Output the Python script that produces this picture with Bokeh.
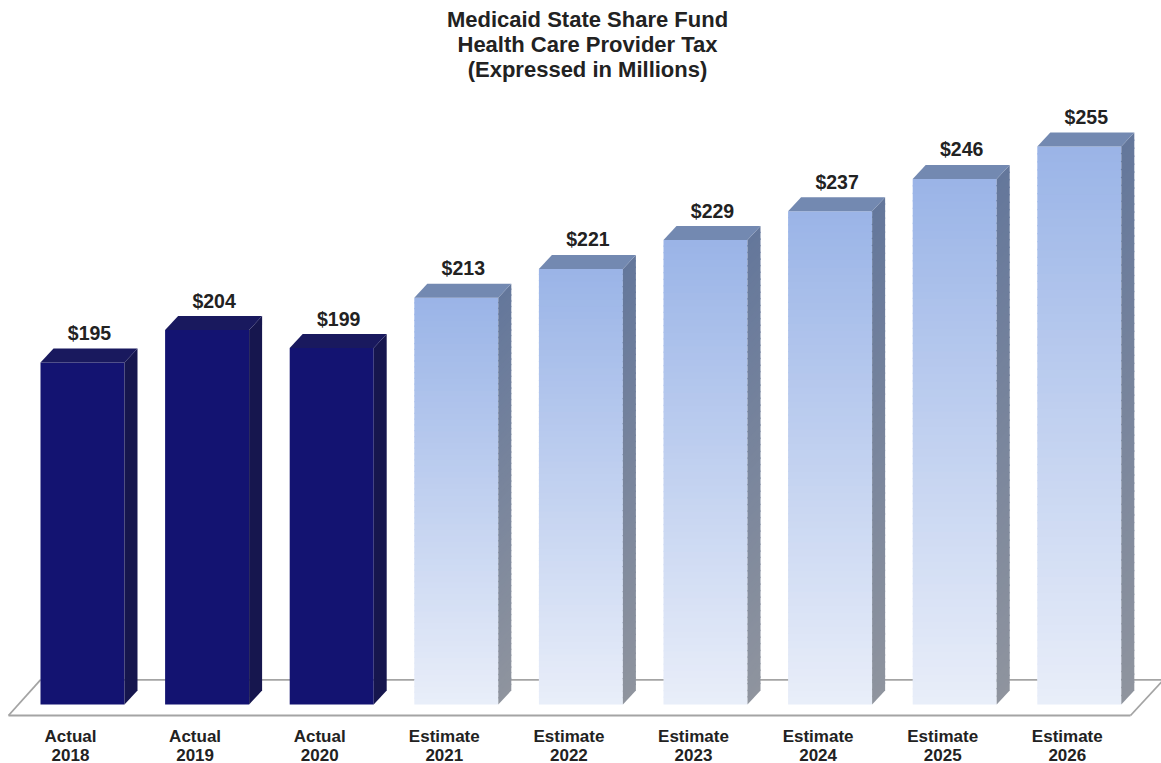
import numpy as np
from bokeh.plotting import figure
from bokeh.models import Range1d
from bokeh.core.properties import value
from bokeh.embed import file_html
from bokeh.resources import INLINE

# ---------------- data ----------------
status = ["Actual", "Actual", "Actual", "Estimate", "Estimate", "Estimate",
          "Estimate", "Estimate", "Estimate"]
years = ["2018", "2019", "2020", "2021", "2022", "2023", "2024", "2025", "2026"]
amounts = [195, 204, 199, 213, 221, 229, 237, 246, 255]
title_lines = ["Medicaid State Share Fund", "Health Care Provider Tax",
               "(Expressed in Millions)"]
base = 100  # value axis starts here

# ---------------- layout constants (pixels) ----------------
W, H = 1161, 763
PXX = 124.6   # px per category step
PXY = 3.6     # px per $M
X0PX = 82     # canvas x of first bar centre
Y0PX = 704    # canvas y of value axis base
TSHIFT = 7.5  # text baseline correction (px)


def sx(px):
    return (px - X0PX) / PXX


def sy(py):
    return base + (Y0PX - py) / PXY


def ty(py):
    return sy(py - TSHIFT)


hw = 42 / PXX      # half front width
ddx = 13 / PXX     # depth offset x
ddy = 14 / PXY     # depth offset y

FONT = value("Liberation Sans")
TXT = "#222222"

p = figure(width=W, height=H, x_range=Range1d(sx(0), sx(W)),
           y_range=Range1d(sy(H), sy(0)), output_backend="svg",
           toolbar_location=None, min_border=0,
           x_axis_location=None, y_axis_location=None)
p.grid.visible = False
p.outline_line_color = None
p.background_fill_color = "white"
p.border_fill_color = "white"

# ---------------- floor ----------------
fy_front = sy(715)
fy_back = sy(679.3)
fl_x0 = sx(8)
fl_x0b = sx(40)
fl_x1 = sx(1130)
fl_x1b = sx(1163)
floor_col = "#a4a4a4"
p.multi_line(xs=[[fl_x0, fl_x1], [fl_x0, fl_x0b], [fl_x0b, fl_x1b + 0.1],
                 [fl_x1, fl_x1b]],
             ys=[[fy_front, fy_front], [fy_front, fy_back], [fy_back, fy_back],
                 [fy_front, fy_back]],
             line_color=floor_col, line_width=1.8)


def hex2rgb(h):
    h = h.lstrip("#")
    return np.array([int(h[i:i + 2], 16) for i in (0, 2, 4)], dtype=float)


def mix(c_bottom, c_top, t):
    a, b = hex2rgb(c_bottom), hex2rgb(c_top)
    c = a + (b - a) * t
    return "#%02x%02x%02x" % tuple(int(round(v)) for v in c)


LF_TOP, LF_BOT = "#9ab4e7", "#e9eef9"
LS_TOP, LS_BOT = "#64779b", "#8f949e"
L_TOPFACE = "#7389b1"
D_FRONT, D_SIDE, D_TOPFACE = "#131371", "#16164e", "#19195e"

N = 70
fq_l, fq_r, fq_b, fq_t, fq_c = [], [], [], [], []
sp_x, sp_y, sp_c = [], [], []
top_x, top_y, top_c = [], [], []

for i, (st, v) in enumerate(zip(status, amounts)):
    l, r = i - hw, i + hw
    if st == "Actual":
        fq_l.append(l); fq_r.append(r); fq_b.append(base); fq_t.append(v)
        fq_c.append(D_FRONT)
        sp_x.append([r, r + ddx, r + ddx, r])
        sp_y.append([base, base + ddy, v + ddy, v])
        sp_c.append(D_SIDE)
        top_c.append(D_TOPFACE)
    else:
        for k in range(N):
            y0 = base + (v - base) * k / N
            y1 = base + (v - base) * (k + 1) / N
            t = (k + 0.5) / N
            ov = 0.35 if k < N - 1 else 0
            fq_l.append(l); fq_r.append(r); fq_b.append(y0); fq_t.append(y1 + ov)
            fq_c.append(mix(LF_BOT, LF_TOP, t))
            sp_x.append([r, r + ddx, r + ddx, r])
            sp_y.append([y0, y0 + ddy, y1 + ddy + ov, y1 + ov])
            sp_c.append(mix(LS_BOT, LS_TOP, t))
        top_c.append(L_TOPFACE)
    top_x.append([l, l + ddx, r + ddx, r])
    top_y.append([v, v + ddy, v + ddy, v])

p.quad(left=fq_l, right=fq_r, bottom=fq_b, top=fq_t, fill_color=fq_c,
       line_color=None)
p.patches(xs=sp_x, ys=sp_y, fill_color=sp_c, line_color=None)
p.patches(xs=top_x, ys=top_y, fill_color=top_c, line_color=None)

# ---------------- value labels ----------------
xs_idx = list(range(len(amounts)))
p.text(x=[i + 7 / PXX for i in xs_idx],
       y=[v + ddy + (8 + TSHIFT) / PXY for v in amounts],
       text=["$%d" % v for v in amounts],
       text_font=FONT, text_font_style="bold", text_font_size="19.5px",
       text_color=TXT, text_align="center", text_baseline="alphabetic")

# ---------------- category labels ----------------
p.text(x=[i - 12 / PXX for i in xs_idx], y=[ty(743)] * len(status),
       text=status, text_font=FONT, text_font_style="bold",
       text_font_size="17px", text_color=TXT, text_align="center",
       text_baseline="alphabetic")
p.text(x=[i - 12 / PXX for i in xs_idx], y=[ty(761.5)] * len(years),
       text=years, text_font=FONT, text_font_style="bold",
       text_font_size="17px", text_color=TXT, text_align="center",
       text_baseline="alphabetic")

# ---------------- title ----------------
p.text(x=[sx(587)] * 3, y=[ty(26.5), ty(51.5), ty(76.5)], text=title_lines,
       text_font=FONT, text_font_style="bold", text_font_size="22px",
       text_color=TXT, text_align="center", text_baseline="alphabetic")

open("out.html", "w").write(file_html(p, INLINE))
